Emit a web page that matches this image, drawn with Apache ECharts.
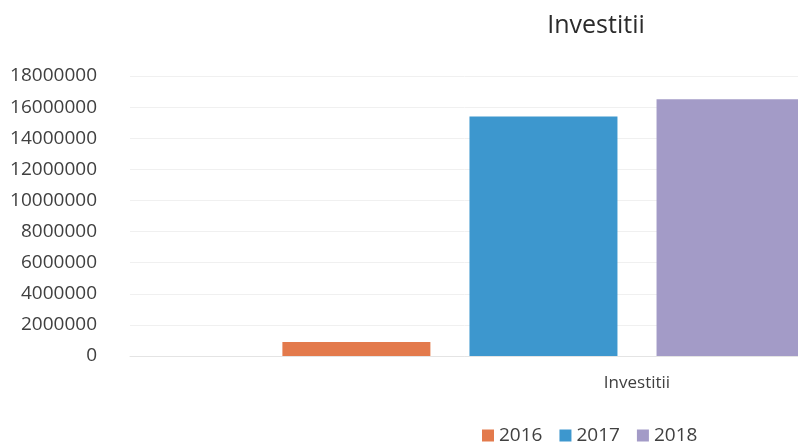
<!DOCTYPE html>
<html>
<head>
<meta charset="utf-8">
<script src="https://cdn.jsdelivr.net/npm/echarts@6/dist/echarts.min.js"></script>
<style>
html,body{margin:0;padding:0;background:#fff;}
#chart{width:798px;height:442px;}
</style>
</head>
<body>
<div id="chart"></div>
<script>
const titleText = 'Investitii';
const categories = ['Investitii'];
const seriesNames = ['2016', '2017', '2018'];
const values2016 = [900000];
const values2017 = [15400000];
const values2018 = [16500000];
const yTicks = [0, 2000000, 4000000, 6000000, 8000000, 10000000, 12000000, 14000000, 16000000, 18000000];
const colors = ['#E37A4C', '#3D97CE', '#A39BC7'];

const chart = echarts.init(document.getElementById('chart'), null, {renderer: 'canvas'});
const font = 'Open Sans';
const seriesData = [values2016, values2017, values2018];
const series = seriesNames.map((n, i) => ({
  name: n,
  type: 'bar',
  data: seriesData[i],
  barWidth: 148,
  barGap: '26.4%',
  itemStyle: {color: colors[i]}
}));
// empty placeholder series slot (keeps the original group offset)
series.push({name: ' ', type: 'bar', data: [null], barWidth: 148, barGap: '26.4%', itemStyle: {color: 'transparent'}});

chart.setOption({
  animation: false,
  backgroundColor: '#fff',
  color: colors,
  title: {
    text: titleText,
    left: 591,
    top: 8,
    textAlign: 'center',
    textStyle: {fontFamily: font, fontSize: 25, fontWeight: 'normal', color: '#2b2b2b'}
  },
  legend: {
    data: seriesNames,
    left: 477,
    top: 421,
    itemWidth: 12,
    itemHeight: 12,
    itemGap: 17,
    icon: 'rect',
    textStyle: {fontFamily: font, fontSize: 19, color: '#404040'}
  },
  grid: {left: 130, width: 1014, top: 76, height: 280, containLabel: false, outerBoundsMode: 'none'},
  xAxis: {
    type: 'category',
    data: categories,
    axisLine: {show: true, lineStyle: {color: '#e4e4e4'}},
    axisTick: {show: false},
    axisLabel: {margin: 19, fontFamily: font, fontSize: 17, color: '#404040'}
  },
  yAxis: {
    type: 'value',
    min: yTicks[0],
    max: yTicks[yTicks.length - 1],
    interval: yTicks[1] - yTicks[0],
    axisLine: {show: false},
    axisTick: {show: false},
    splitLine: {lineStyle: {color: '#f0f0f0'}},
    axisLabel: {margin: 33, fontFamily: font, fontSize: 19, color: '#404040', formatter: v => String(v)}
  },
  series: series
});
</script>
</body>
</html>
